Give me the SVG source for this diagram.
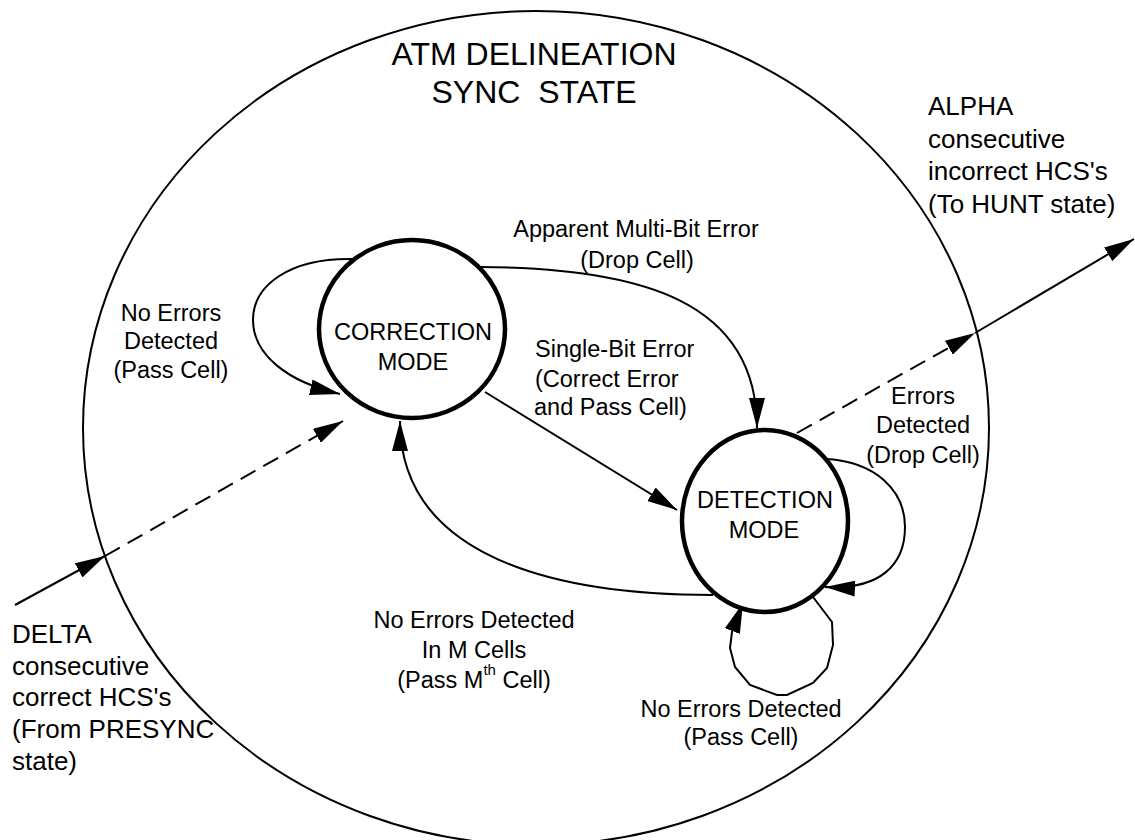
<svg xmlns="http://www.w3.org/2000/svg" width="1135" height="840" viewBox="0 0 1135 840">
<style>
text{font-family:"Liberation Sans",Arial,sans-serif;fill:#000}
.lbl{font-size:23.5px}
.big{font-size:26px}
.ttl{font-size:32px}
.c{text-anchor:middle}
.ln{fill:none;stroke:#000;stroke-width:2}
.ds{stroke-dasharray:17 9}
.node{fill:#fff;stroke:#000;stroke-width:4.5}
</style>
<defs>
<marker id="ah" viewBox="0 0 30 16" refX="30" refY="8" markerWidth="30" markerHeight="16" markerUnits="userSpaceOnUse" orient="auto">
<path d="M0,0 L30,8 L0,16 Z" fill="#000"/>
</marker>
</defs>
<g id="sync-state">
<ellipse cx="536" cy="428" rx="453" ry="417" fill="none" stroke="#000" stroke-width="2"/>
<text class="ttl c" x="534" y="65">ATM DELINEATION</text>
<text class="ttl c" x="534" y="103" xml:space="preserve">SYNC  STATE</text>
</g>
<g id="connectors">
<path class="ln" d="M352,259 C290,258 253,285 253,320 C253,355 288,382 340,394" marker-end="url(#ah)"/>
<path class="ln" d="M480,267 C640,268 757,300 757,428" marker-end="url(#ah)"/>
<path class="ln" d="M485,392 L677,510" marker-end="url(#ah)"/>
<path class="ln" d="M713,595 C520,595 400,540 400,421" marker-end="url(#ah)"/>
<path class="ln" d="M827,459 C875,462 905,490 905,527 C905,565 880,590 825,587" marker-end="url(#ah)"/>
<path class="ln" d="M813,597 L832,622 L833,645 L827,668 L813,683 L787,695 L777,695 L750,685 L735,667 L730,648 L732,632 L743,603" marker-end="url(#ah)"/>
<path class="ln" d="M15,605 L105,556" marker-end="url(#ah)"/>
<path class="ln ds" d="M105,556 L343,421" marker-end="url(#ah)"/>
<path class="ln ds" d="M797,433 L975,333" marker-end="url(#ah)"/>
<path class="ln" d="M975,333 L1134,239" marker-end="url(#ah)"/>
</g>
<g id="correction-mode">
<ellipse class="node" cx="412" cy="329" rx="93" ry="89"/>
<text class="lbl c" x="413" y="340">CORRECTION</text>
<text class="lbl c" x="413" y="370">MODE</text>
</g>
<g id="detection-mode">
<ellipse class="node" cx="765" cy="521" rx="83" ry="91"/>
<text class="lbl c" x="765" y="508">DETECTION</text>
<text class="lbl c" x="764" y="538">MODE</text>
</g>
<g id="labels">
<text class="lbl c" x="636" y="237">Apparent Multi-Bit Error</text>
<text class="lbl c" x="637" y="268">(Drop Cell)</text>
<text class="lbl c" x="171" y="321">No Errors</text>
<text class="lbl c" x="171" y="349">Detected</text>
<text class="lbl c" x="171" y="378">(Pass Cell)</text>
<text class="lbl" x="535" y="357">Single-Bit Error</text>
<text class="lbl" x="535" y="387">(Correct Error</text>
<text class="lbl" x="534" y="415">and Pass Cell)</text>
<text class="lbl c" x="923" y="404">Errors</text>
<text class="lbl c" x="923" y="433">Detected</text>
<text class="lbl c" x="923" y="463">(Drop Cell)</text>
<text class="lbl c" x="474" y="628">No Errors Detected</text>
<text class="lbl c" x="474" y="658">In M Cells</text>
<text class="lbl c" x="474" y="688">(Pass M<tspan dy="-13" font-size="15">th</tspan><tspan dy="13"> Cell)</tspan></text>
<text class="lbl c" x="741" y="717">No Errors Detected</text>
<text class="lbl c" x="741" y="745">(Pass Cell)</text>
<text class="big" x="928" y="115">ALPHA</text>
<text class="big" x="928" y="148">consecutive</text>
<text class="big" x="928" y="180">incorrect HCS's</text>
<text class="big" x="928" y="213">(To HUNT state)</text>
<text class="big" x="12" y="643">DELTA</text>
<text class="big" x="12" y="675">consecutive</text>
<text class="big" x="12" y="706">correct HCS's</text>
<text class="big" x="12" y="738">(From PRESYNC</text>
<text class="big" x="12" y="770">state)</text>
</g>
</svg>
